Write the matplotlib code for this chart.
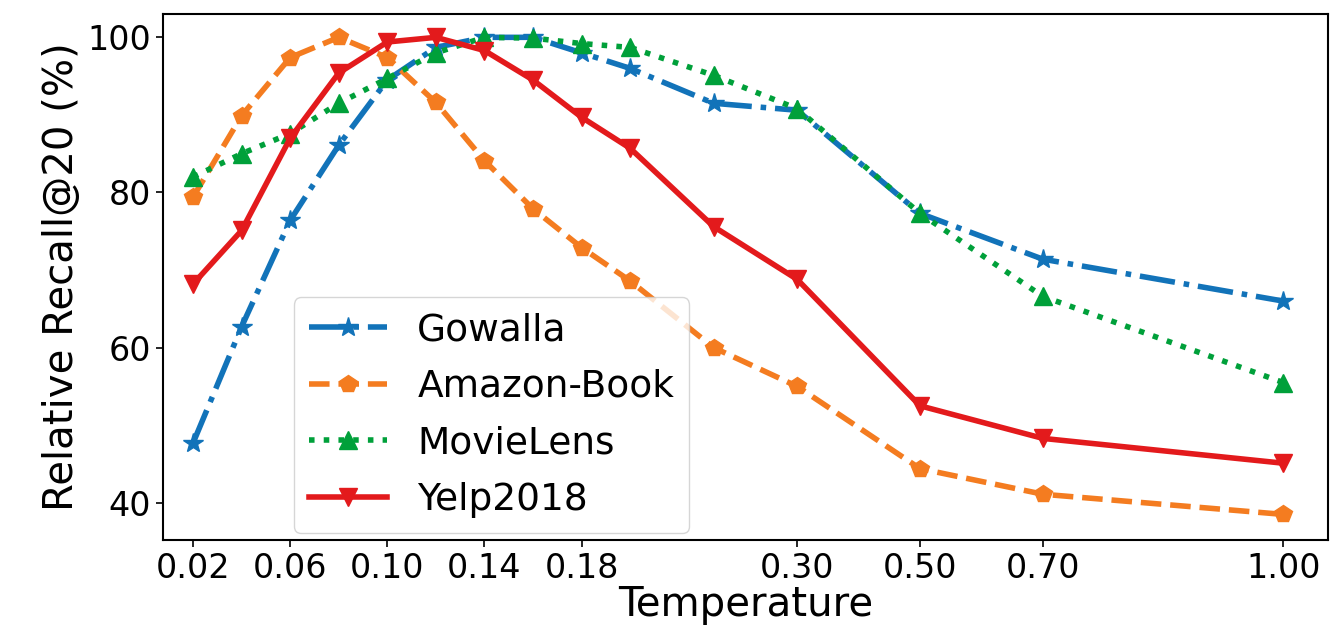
import numpy as np
import matplotlib
matplotlib.use("Agg")
import matplotlib.pyplot as plt

# temperatures and relative recall values
temps = [0.02, 0.04, 0.06, 0.08, 0.10, 0.12, 0.14, 0.16, 0.18, 0.20, 0.25, 0.30, 0.50, 0.70, 1.00]
gowalla = [47.7, 62.7, 76.4, 86.1, 94.5, 98.7, 100.0, 100.0, 98.0, 96.0, 91.5, 90.6, 77.3, 71.4, 66.0]
amazon = [79.4, 89.9, 97.4, 100.0, 97.4, 91.6, 84.1, 77.9, 72.9, 68.6, 60.0, 55.0, 44.4, 41.1, 38.5]
movielens = [82.0, 85.0, 87.6, 91.5, 94.7, 98.0, 100.0, 99.9, 99.2, 98.7, 95.1, 90.8, 77.3, 66.6, 55.5]
yelp = [68.2, 75.1, 87.0, 95.4, 99.4, 100.0, 98.3, 94.5, 89.7, 85.7, 75.6, 68.8, 52.5, 48.3, 45.1]

tick_vals = [0.02, 0.06, 0.10, 0.14, 0.18, 0.30, 0.50, 0.70, 1.00]

# piecewise axis used in the original figure
brk_v = np.array([0.0, 0.20, 0.30, 0.70, 1.00, 1.30])
brk_p = np.array([0.0, 10.0, 13.44, 18.5, 23.45, 28.4])


def fwd(x):
    return np.interp(x, brk_v, brk_p)


def inv(p):
    return np.interp(p, brk_p, brk_v)


fig = plt.figure(figsize=(13.3, 6.25), dpi=100)
ax = fig.add_axes([0.1226, 0.136, 0.876, 0.8415])
ax.set_xscale("function", functions=(fwd, inv))

lw = 4
ax.plot(temps, gowalla, "-.", color="#1273B9", marker="*", markersize=15, lw=lw, label="Gowalla")
ax.plot(temps, amazon, "--", color="#F47C20", marker="p", markersize=13, lw=lw, label="Amazon-Book")
ax.plot(temps, movielens, ":", color="#00A03A", marker="^", markersize=13, lw=lw, label="MovieLens")
ax.plot(temps, yelp, "-", color="#E31A1C", marker="v", markersize=13, lw=lw, label="Yelp2018")

ax.set_xlim(0.00764, 1.056)
ax.set_ylim(35.2, 103)
ax.set_xticks(tick_vals)
ax.set_xticklabels([f"{v:.2f}" for v in tick_vals])
ax.set_yticks([40, 60, 80, 100])
ax.xaxis.set_minor_locator(matplotlib.ticker.NullLocator())
ax.tick_params(labelsize=24, length=5, width=1.2)
for s in ax.spines.values():
    s.set_linewidth(1.5)

ax.set_xlabel("Temperature", fontsize=29, labelpad=0)
ax.set_ylabel("Relative Recall@20 (%)", fontsize=29, labelpad=4)

ax.legend(loc="lower left", bbox_to_anchor=(0.112, 0.013), borderaxespad=0,
          fontsize=27, handlelength=2.1, labelspacing=0.55)

fig.savefig("out.png", dpi=100)
